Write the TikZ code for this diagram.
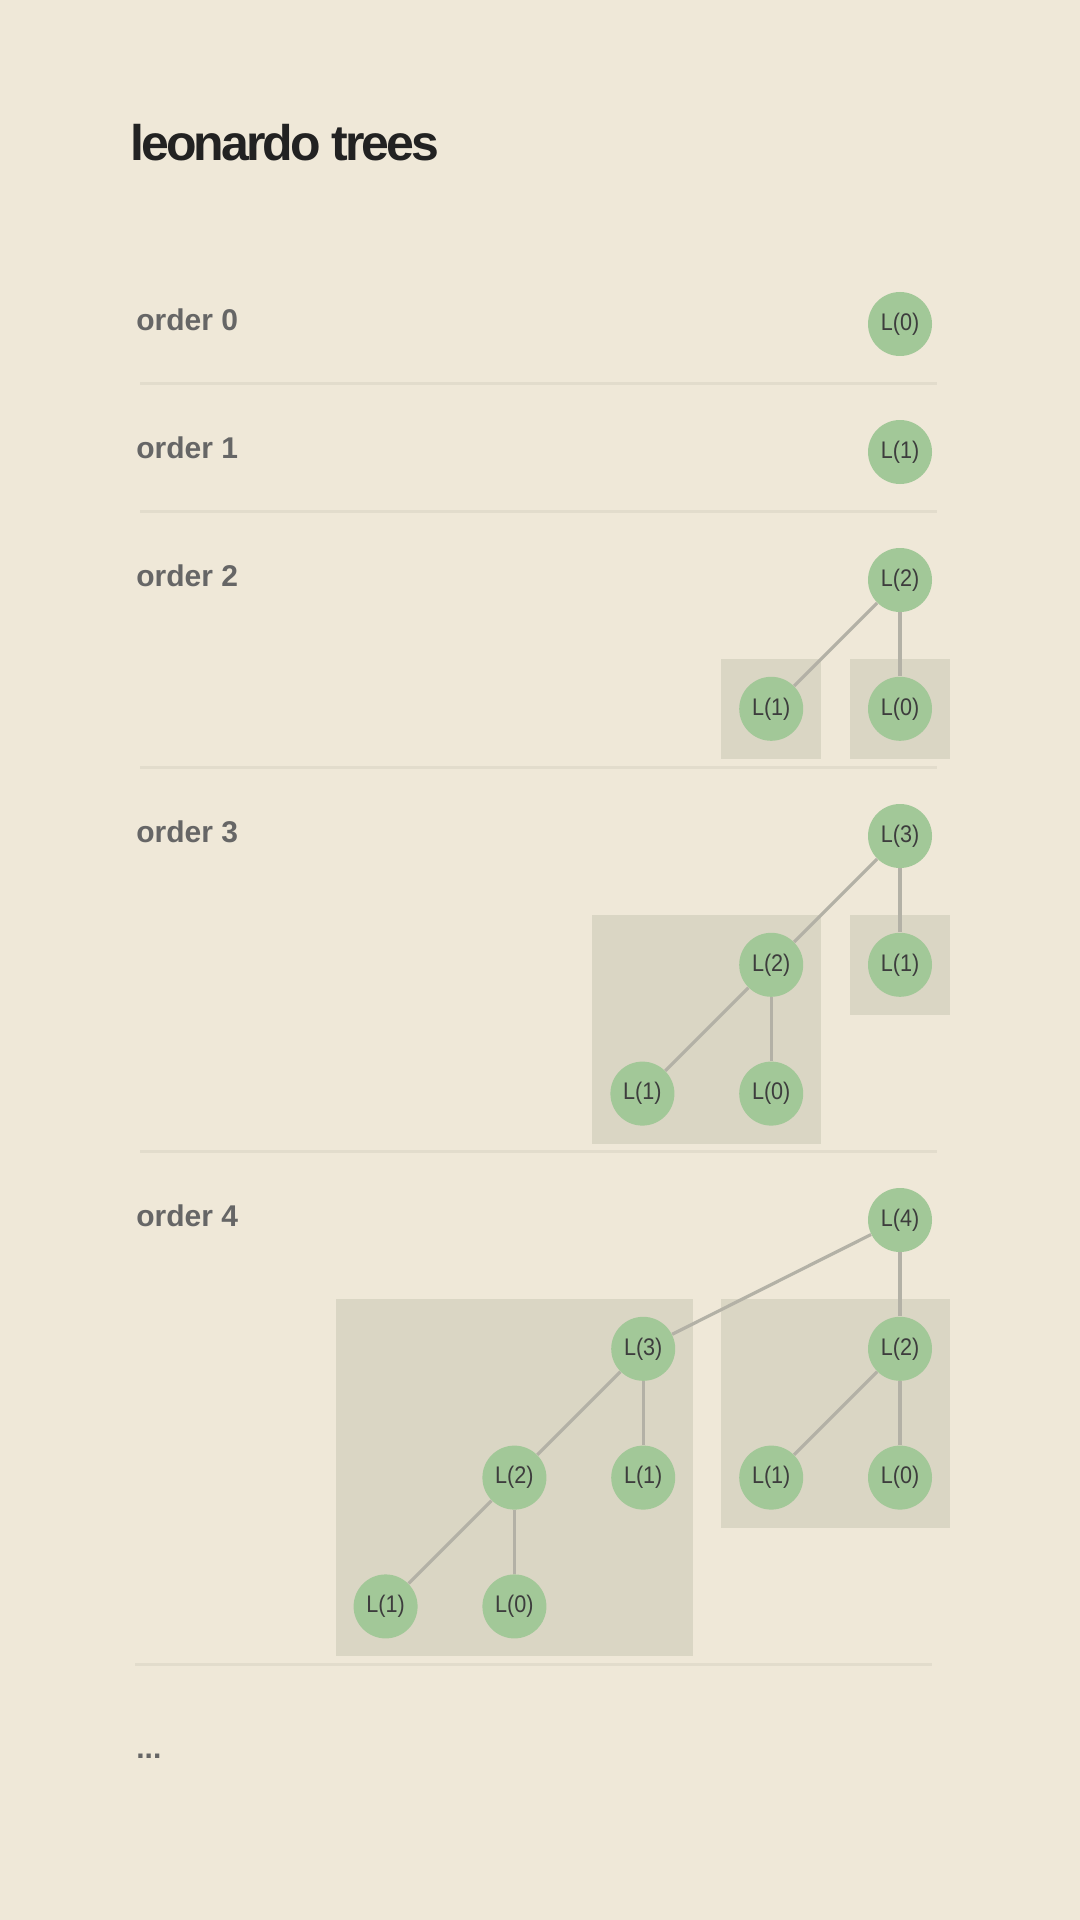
\documentclass[tikz,border=0pt]{standalone}
\usepackage{fontspec}
\setmainfont{Liberation Sans}
\newfontfamily\titlefont[LetterSpace=-6]{Liberation Sans}
\newfontfamily\treefont[FakeStretch=0.9]{Liberation Sans}
\usepackage{xcolor}
\definecolor{paper}{RGB}{239,232,216}
\definecolor{leafgreen}{RGB}{162,200,152}
\definecolor{boxgray}{RGB}{218,214,196}
\definecolor{linkgray}{RGB}{179,177,166}
\definecolor{rulegray}{RGB}{226,220,204}
\definecolor{labelgray}{RGB}{102,102,102}
\definecolor{titleink}{RGB}{34,34,34}
\usetikzlibrary{positioning,fit,backgrounds}

\begin{document}
\begin{tikzpicture}[x=0.5pt,y=-0.5pt,
  node distance=32pt and 32pt,
  leo/.style={circle,fill=leafgreen,minimum size=32pt,inner sep=0pt,
    font=\treefont\fontsize{12}{12}\selectfont,text=black!76},
  sub/.style={fill=boxgray,inner sep=25pt},
  lnk/.style={draw=linkgray,line width=1.6pt},
  rule/.style={draw=rulegray,line width=1.5pt},
  lbl/.style={anchor=base west,inner sep=0pt,text=labelgray,
    font=\bfseries\fontsize{15}{15}\selectfont}]
  \begin{scope}[on background layer]
    \fill[paper] (0,0) rectangle (1080,1920);
  \end{scope}
  \node[anchor=base west,inner sep=0pt,text=titleink,
    font=\titlefont\bfseries\fontsize{25}{25}\selectfont] (title) at (130,161) {leonardo trees};
  % order 0
  \node[lbl] (o0) at (136,330) {order 0};
  \node[leo] (a0) at (900,324) {L(0)};
  \draw[rule] (140,383) -- (937,383);
  % order 1
  \node[lbl] (o1) at (136,458) {order 1};
  \node[leo] (b1) at (900,452) {L(1)};
  \draw[rule] (140,511) -- (937,511);
  % order 2
  \node[lbl] (o2) at (136,586) {order 2};
  \node[leo] (c2) at (900,580) {L(2)};
  \node[leo,below=of c2] (c0) {L(0)};
  \node[leo,left=of c0] (c1) {L(1)};
  \draw[lnk] (c2) -- (c1); \draw[lnk] (c2) -- (c0);
  \begin{scope}[on background layer]
    \node[sub,fit=(c1.center)] {};
    \node[sub,fit=(c0.center)] {};
  \end{scope}
  \draw[rule] (140,767) -- (937,767);
  % order 3
  \node[lbl] (o3) at (136,842) {order 3};
  \node[leo] (d3) at (900,836) {L(3)};
  \node[leo,below=of d3] (d1) {L(1)};
  \node[leo,left=of d1] (d2) {L(2)};
  \node[leo,below=of d2] (d20) {L(0)};
  \node[leo,left=of d20] (d21) {L(1)};
  \draw[lnk] (d3) -- (d2); \draw[lnk] (d3) -- (d1);
  \draw[lnk] (d2) -- (d21); \draw[lnk] (d2) -- (d20);
  \begin{scope}[on background layer]
    \node[sub,fit=(d2.center)(d21.center)(d20.center)] {};
    \node[sub,fit=(d1.center)] {};
  \end{scope}
  \draw[rule] (140,1151) -- (937,1151);
  % order 4
  \node[lbl] (o4) at (136,1226) {order 4};
  \node[leo] (e4) at (900,1220) {L(4)};
  \node[leo,below=of e4] (e2) {L(2)};
  \node[leo,below=of e2] (e20) {L(0)};
  \node[leo,left=of e20] (e21) {L(1)};
  \node[leo,left=96pt of e2] (e3) {L(3)};
  \node[leo,below=of e3] (e31) {L(1)};
  \node[leo,left=of e31] (e32) {L(2)};
  \node[leo,below=of e32] (e320) {L(0)};
  \node[leo,left=of e320] (e321) {L(1)};
  \draw[lnk] (e4) -- (e3); \draw[lnk] (e4) -- (e2);
  \draw[lnk] (e2) -- (e21); \draw[lnk] (e2) -- (e20);
  \draw[lnk] (e3) -- (e32); \draw[lnk] (e3) -- (e31);
  \draw[lnk] (e32) -- (e321); \draw[lnk] (e32) -- (e320);
  \begin{scope}[on background layer]
    \node[sub,fit=(e3.center)(e321.center)(e320.center)] {};
    \node[sub,fit=(e2.center)(e21.center)(e20.center)] {};
  \end{scope}
  \draw[rule] (135,1664) -- (932,1664);
  % more
  \node[lbl] (more) at (136,1758) {...};
\end{tikzpicture}
\end{document}
